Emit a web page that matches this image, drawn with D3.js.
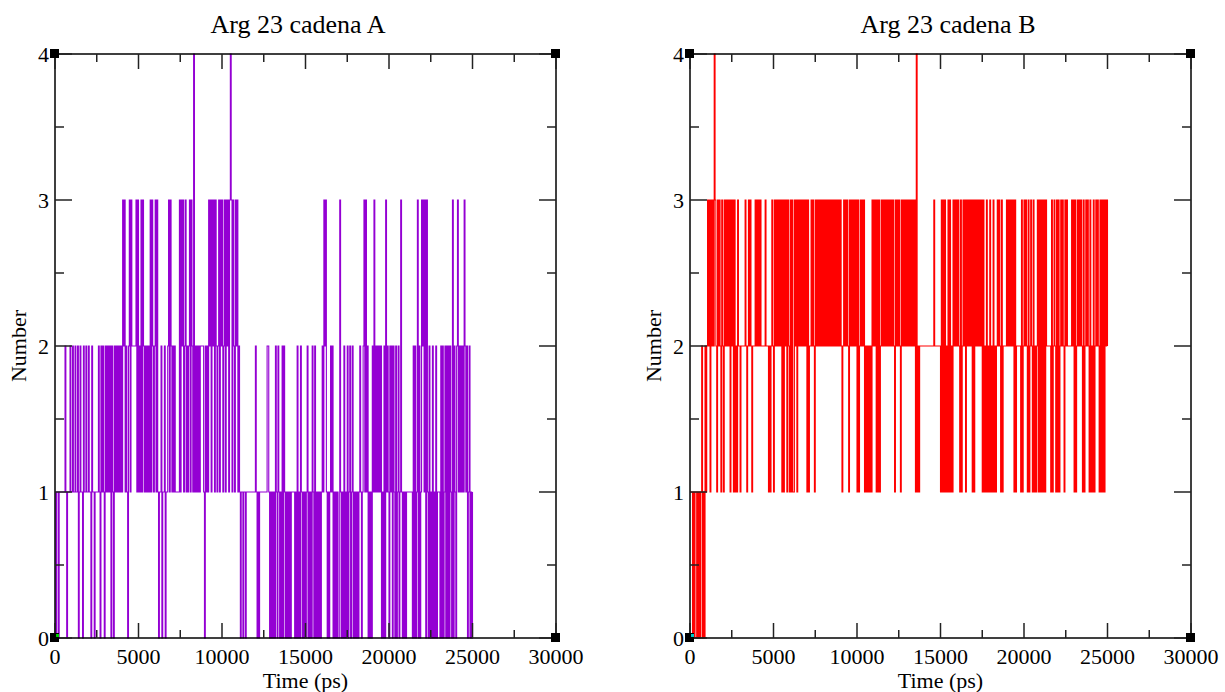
<!DOCTYPE html>
<html><head><meta charset="utf-8">
<script src="https://cdn.jsdelivr.net/npm/d3@7"></script>
<style>body{margin:0;background:#fff}svg{display:block}text{font-family:"Liberation Serif","Times New Roman",serif;fill:#000}</style>
</head><body>
<script>
// Time step between samples (ps) and the two series (number of H-bonds, sampled every 50 ps)
const timeStep = 50;
const valuesA = [
1,0,1,1,0,1,1,1,1,1, 1,1,2,1,0,1,1,1,2,1,
1,2,1,1,2,1,1,2,0,1, 2,1,1,0,2,1,1,2,1,1,
2,1,1,0,2,1,1,0,1,1, 1,1,2,1,0,2,1,2,1,0,
2,1,2,1,2,1,2,0,2,1, 0,2,1,2,1,2,1,2,1,2,
1,3,2,3,1,2,1,0,2,3, 1,3,2,2,2,2,2,3,1,3,
1,2,1,3,1,3,2,1,2,1, 2,1,2,1,3,1,3,2,1,2,
3,1,3,1,0,1,1,2,0,1, 1,2,0,1,1,2,3,1,3,2,
1,2,1,2,1,1,1,1,1,3, 1,3,2,3,1,2,3,1,2,1,
2,3,1,3,2,1,4,1,2,1, 2,1,2,1,2,2,2,2,1,0,
2,1,2,1,3,2,3,1,3,2, 3,1,3,2,1,2,3,1,3,2,
3,1,2,3,1,3,2,3,1,3, 4,3,1,3,2,1,3,2,3,1,
2,1,0,1,1,0,1,1,0,1, 1,1,1,1,1,1,1,1,1,1,
2,1,0,1,0,1,1,1,1,1, 1,1,1,1,2,2,1,0,1,0,
1,0,1,0,2,1,0,2,1,0, 1,0,2,0,2,1,0,1,0,1,
0,1,0,1,1,1,1,0,1,0, 2,0,1,0,2,1,0,1,0,1,
0,1,2,0,1,0,1,0,2,1, 0,2,0,1,0,1,0,1,0,1,
2,1,3,2,3,1,0,1,0,1, 2,1,2,0,1,0,1,0,1,0,
0,3,1,0,1,0,2,0,1,0, 2,0,1,2,0,1,2,0,1,0,
1,0,1,0,1,2,1,0,1,2, 3,1,3,1,2,0,1,0,1,0,
2,1,3,1,2,1,2,1,2,1, 2,0,1,0,2,0,3,1,2,1,
0,2,1,2,0,2,1,0,2,0, 1,2,0,1,3,1,0,1,0,1,
0,1,1,1,1,1,1,1,0,2, 0,2,0,1,3,0,2,0,1,3,
2,3,1,3,0,3,1,0,2,0, 1,0,2,0,1,0,2,0,1,1,
1,0,2,0,2,0,1,2,0,2, 0,2,0,2,1,0,3,0,2,1,
0,2,3,1,2,1,2,1,2,1, 3,2,1,2,0,1,2,0,1,0,
1];
const valuesB = [
1,1,1,0,1,0,1,1,0,1, 0,1,0,1,2,0,1,0,2,1,
2,3,2,3,1,3,2,3,2,4, 3,2,1,3,2,3,2,1,3,2,
1,3,2,3,2,3,2,3,1,3, 2,3,1,3,1,2,1,3,2,2,
1,2,2,2,2,2,3,2,1,2, 3,2,3,2,1,2,2,2,3,2,
3,2,3,2,3,2,2,2,2,2, 3,2,2,2,1,2,1,2,3,2,
1,3,2,3,2,3,2,3,2,3, 1,3,1,3,2,3,1,3,2,1,
3,1,3,1,1,3,2,3,1,3, 2,3,2,3,2,3,2,3,2,3,
1,3,1,2,2,3,2,3,2,1, 3,2,3,2,3,2,3,2,3,2,
3,2,3,2,3,2,3,2,3,2, 3,2,3,2,3,2,3,2,3,2,
3,2,1,2,3,2,3,2,3,2, 1,3,2,3,2,3,2,3,2,3,
1,3,1,2,3,2,3,2,3,1, 2,1,2,1,2,1,2,1,3,2,
3,2,3,1,3,1,3,1,2,3, 2,3,2,3,2,3,2,3,2,3,
2,3,2,3,2,1,3,2,3,2, 3,2,1,3,2,3,2,3,2,3,
2,3,2,3,2,3,2,3,2,3, 1,4,1,2,1,2,2,2,2,2,
2,2,2,2,2,2,2,2,2,2, 2,2,3,2,2,2,2,2,2,2,
1,3,1,3,1,3,1,2,1,3, 1,3,1,2,1,3,2,3,2,3,
2,3,2,1,3,1,2,3,2,3, 1,3,2,3,2,3,2,3,1,3,
1,3,2,3,2,3,2,3,2,3, 1,3,1,2,1,3,1,2,1,3,
1,2,1,3,1,2,1,2,3,2, 3,2,1,3,1,2,2,2,2,3,
2,3,2,3,2,3,2,3,1,3, 1,2,2,2,2,2,1,3,1,2,
3,2,3,2,1,3,1,2,3,2, 1,3,1,2,1,2,3,1,3,1,
3,1,3,1,3,1,3,2,2,2, 2,2,1,3,1,2,3,2,1,3,
1,3,1,2,3,2,3,2,1,3, 2,3,2,2,2,2,2,3,2,3,
1,3,1,2,3,2,3,2,3,2, 1,3,1,2,3,2,3,2,1,3,
1,2,1,3,1,2,3,2,3,2, 1,3,1,3,1,3,1,3,2,3,
2];
const titles = ["Arg 23 cadena A", "Arg 23 cadena B"];
const xTickValues = [0, 5000, 10000, 15000, 20000, 25000, 30000];
const xTickLabels = ["0", "5000", "10000", "15000", "20000", "25000", "30000"];
const yTickValues = [0, 1, 2, 3, 4];
const yTickLabels = ["0", "1", "2", "3", "4"];
const xLabel = "Time (ps)";
const yLabel = "Number";

const W = 1225, H = 692;
const svg = d3.select("body").append("svg").attr("width", W).attr("height", H);

const panels = [
  {values: valuesA, title: titles[0], color: "#9400d3", left: 55, titleX: 298, mark: "#00d000"},
  {values: valuesB, title: titles[1], color: "#ff0000", left: 690, titleX: 948, mark: "#00c8c8"}
];
const pw = 501, plotTop = 54, plotBottom = 638;

panels.forEach(p => {
  const x = d3.scaleLinear().domain([0, 30000]).range([p.left, p.left + pw]);
  const y = d3.scaleLinear().domain([0, 4]).range([plotBottom, plotTop]);
  const g = svg.append("g");

  const data = p.values.map((v, i) => [i * timeStep, v]);
  g.append("path").datum(data)
    .attr("fill", "none").attr("stroke", p.color).attr("stroke-width", 1.1)
    .attr("d", d3.line().curve(d3.curveStepAfter).x(d => x(d[0])).y(d => y(d[1])));

  g.append("rect").attr("x", p.left).attr("y", plotTop).attr("width", pw).attr("height", plotBottom - plotTop)
    .attr("fill", "none").attr("stroke", "#000").attr("stroke-width", 1.5);

  const xMinor = d3.range(2500, 30000, 5000);
  const yMinor = d3.range(0.5, 4, 1);
  const tickStroke = "#222";
  const xt = (vals, len) => {
    g.selectAll(null).data(vals).enter().append("line")
      .attr("x1", d => x(d)).attr("x2", d => x(d)).attr("y1", plotBottom).attr("y2", plotBottom - len)
      .attr("stroke", tickStroke).attr("stroke-width", 1.5);
    g.selectAll(null).data(vals).enter().append("line")
      .attr("x1", d => x(d)).attr("x2", d => x(d)).attr("y1", plotTop).attr("y2", plotTop + len)
      .attr("stroke", tickStroke).attr("stroke-width", 1.5);
  };
  xt(xTickValues, 15); xt(xMinor, 8);
  const yt = (vals, len) => {
    g.selectAll(null).data(vals).enter().append("line")
      .attr("y1", d => y(d)).attr("y2", d => y(d)).attr("x1", p.left).attr("x2", p.left + len)
      .attr("stroke", tickStroke).attr("stroke-width", 1.5);
    g.selectAll(null).data(vals).enter().append("line")
      .attr("y1", d => y(d)).attr("y2", d => y(d)).attr("x1", p.left + pw).attr("x2", p.left + pw - len)
      .attr("stroke", tickStroke).attr("stroke-width", 1.5);
  };
  yt(yTickValues, 17); yt(yMinor, 9);

  g.selectAll(null).data(xTickValues).enter().append("text")
    .attr("x", d => x(d)).attr("y", 664).attr("text-anchor", "middle")
    .attr("font-size", 22).text((d, i) => xTickLabels[i]);
  g.selectAll(null).data(yTickValues).enter().append("text")
    .attr("x", p.left - 6).attr("y", d => y(d) + 8).attr("text-anchor", "end")
    .attr("font-size", 22).text((d, i) => yTickLabels[i]);

  [[p.left, plotTop], [p.left + pw, plotTop], [p.left, plotBottom], [p.left + pw, plotBottom]].forEach(c => {
    g.append("rect").attr("x", c[0] - 5).attr("y", c[1] - 5).attr("width", 9).attr("height", 9).attr("fill", "#000");
  });
  g.append("rect").attr("x", p.left + 1).attr("y", plotBottom - 4).attr("width", 3).attr("height", 3).attr("fill", p.mark);

  g.append("text").attr("x", p.titleX).attr("y", 33).attr("text-anchor", "middle")
    .attr("font-size", 26).text(p.title);
  g.append("text").attr("x", p.left + pw / 2).attr("y", 688).attr("text-anchor", "middle")
    .attr("font-size", 22).text(xLabel);
  g.append("text").attr("transform", `translate(${p.left - 29},${(plotTop + plotBottom) / 2}) rotate(-90)`)
    .attr("text-anchor", "middle").attr("font-size", 22).text(yLabel);
});
</script>
</body></html>
